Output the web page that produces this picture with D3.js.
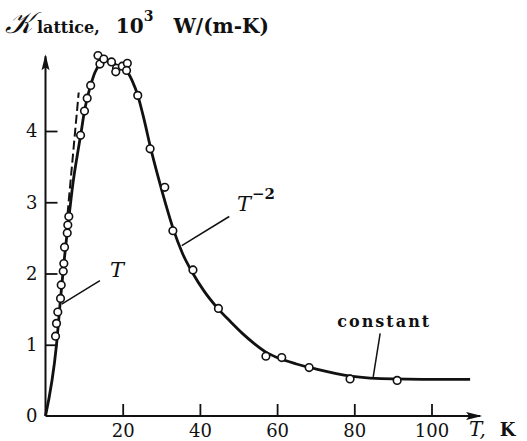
<!DOCTYPE html>
<html>
<head>
<meta charset="utf-8">
<script src="https://cdn.jsdelivr.net/npm/d3@7"></script>
<style>
  html, body { margin: 0; padding: 0; background: #fff; }
  svg { display: block; }
  text { font-family: "DejaVu Serif", "Liberation Serif", serif; fill: #111; }
</style>
</head>
<body>
<svg id="chart" width="527" height="441"></svg>
<script>
// Measured lattice thermal conductivity (10^3 W/(m·K)) versus temperature (K)
const tempK = [2.6, 2.85, 3.19, 3.89, 4.07, 4.59, 4.75, 4.93, 5.63, 5.78, 6.04,
  9.08, 10.1, 10.8, 11.7, 13.6, 14.1, 15.1, 17.1, 18.4, 18.2, 19.9, 21.2, 21.0,
  23.9, 27.1, 30.9, 33.0, 38.2, 44.8, 57.1, 61.2, 68.3, 78.9, 91.1];
const kappa = [1.12, 1.30, 1.46, 1.65, 1.84, 2.03, 2.14, 2.37, 2.57, 2.68, 2.80,
  3.94, 4.28, 4.46, 4.64, 5.06, 4.94, 5.01, 4.97, 4.88, 4.83, 4.91, 4.95, 4.85,
  4.50, 3.75, 3.21, 2.60, 2.05, 1.51, 0.84, 0.82, 0.68, 0.52, 0.50];

// Smooth trend curve through the measurements
const curveT = [0, 2.85, 3.9, 4.75, 5.7, 6.3, 7.2, 8.2, 9.1, 10.1, 10.8, 11.7, 12.8,
  14.2, 15.5, 17.0, 18.5, 20.0, 21.2, 22.5, 23.9, 25.5, 27.2, 29.3, 31.1, 33.0,
  35.5, 38.2, 41.0, 44.8, 48, 51, 54, 57, 60, 65, 70, 79, 90, 100, 110];
const curveK = [0, 1.0, 1.65, 2.14, 2.62, 2.9, 3.3, 3.65, 3.94, 4.28, 4.46, 4.64, 4.82,
  4.95, 5.0, 4.98, 4.92, 4.88, 4.83, 4.7, 4.5, 4.17, 3.77, 3.33, 2.98, 2.64,
  2.28, 2.0, 1.76, 1.5, 1.32, 1.16, 1.02, 0.9, 0.82, 0.73, 0.66, 0.56, 0.52, 0.515, 0.515];

// Linear (∝ T) asymptote at low temperature
const dashT = [5.7, 8.6];
const dashK = [2.83, 4.54];

const xTicks = [20, 40, 60, 80, 100];
const yTicks = [0, 1, 2, 3, 4];

const svg = d3.select("#chart");
const x = d3.scaleLinear().domain([0, 100]).range([45.5, 431.5]);
const y = d3.scaleLinear().domain([0, 4]).range([416, 131]);
const xEnd = 112.6, yEnd = 5.05;

// Axes: inward ticks, labels outside, plain arrowed spines drawn separately
const gx = svg.append("g").attr("transform", `translate(0,${y(0)})`)
  .call(d3.axisBottom(x).tickValues(xTicks).tickFormat(d3.format("d"))
    .tickSizeInner(-12).tickSizeOuter(0).tickPadding(8));
const gy = svg.append("g").attr("transform", `translate(${x(0)},0)`)
  .call(d3.axisLeft(y).tickValues(yTicks).tickFormat(d3.format("d"))
    .tickSizeInner(-12).tickSizeOuter(0).tickPadding(8));
[gx, gy].forEach(g => {
  g.select(".domain").remove();
  g.selectAll(".tick line").attr("stroke", "#111").attr("stroke-width", 1.8);
  g.selectAll(".tick text").attr("font-size", 18).attr("fill", "#111")
    .style("font-family", '"DejaVu Serif", serif');
});
gy.selectAll(".tick").filter(d => d === 0).select("line").remove();

svg.append("line").attr("x1", x(0)).attr("y1", y(0)).attr("x2", x(xEnd)).attr("y2", y(0))
  .attr("stroke", "#111").attr("stroke-width", 2);
svg.append("line").attr("x1", x(0)).attr("y1", y(0)).attr("x2", x(0)).attr("y2", y(yEnd))
  .attr("stroke", "#111").attr("stroke-width", 2);
// arrow heads
const ax = x(xEnd), ay = y(0);
svg.append("path").attr("d", `M${ax + 2},${ay} L${ax - 14},${ay - 4} L${ax - 11},${ay} L${ax - 14},${ay + 4} Z`).attr("fill", "#111");
const bx = x(0), by = y(yEnd);
svg.append("path").attr("d", `M${bx},${by - 2} L${bx - 4},${by + 14} L${bx},${by + 11} L${bx + 4},${by + 14} Z`).attr("fill", "#111");

// Trend curve
const pts = curveT.map((t, i) => [t, curveK[i]]);
svg.append("path")
  .attr("d", d3.line().x(d => x(d[0])).y(d => y(d[1])).curve(d3.curveMonotoneX)(pts))
  .attr("fill", "none").attr("stroke", "#111").attr("stroke-width", 2.8)
  .attr("stroke-linejoin", "round");

// Dashed low-T asymptote
svg.append("path")
  .attr("d", d3.line().x(d => x(d[0])).y(d => y(d[1]))(dashT.map((t, i) => [t, dashK[i]])))
  .attr("fill", "none").attr("stroke", "#111").attr("stroke-width", 2)
  .attr("stroke-dasharray", "9,4");

// Measurement circles
svg.append("g").selectAll("circle")
  .data(tempK.map((t, i) => [t, kappa[i]]))
  .join("circle")
  .attr("cx", d => x(d[0])).attr("cy", d => y(d[1])).attr("r", 3.8)
  .attr("fill", "#fff").attr("stroke", "#111").attr("stroke-width", 1.6);

// Leader lines for the regime labels
const leaders = [
  [[14.1, 1.90], [4.2, 1.57]],
  [[47.6, 2.80], [35.3, 2.39]],
  [[86.7, 1.16], [84.9, 0.55]]
];
svg.append("g").selectAll("line").data(leaders).join("line")
  .attr("x1", d => x(d[0][0])).attr("y1", d => y(d[0][1]))
  .attr("x2", d => x(d[1][0])).attr("y2", d => y(d[1][1]))
  .attr("stroke", "#111").attr("stroke-width", 1.5);

svg.append("text").attr("x", x(16.7)).attr("y", y(1.95))
  .attr("font-size", 21).attr("font-style", "italic").text("T");
const tm2 = svg.append("text").attr("x", x(49.6)).attr("y", y(2.88))
  .attr("font-size", 21).attr("font-style", "italic");
tm2.append("tspan").text("T");
tm2.append("tspan").attr("dy", -12).attr("dx", 1).attr("font-size", 15)
  .attr("font-style", "normal").attr("font-weight", "bold").text("−2");
svg.append("text").attr("x", x(75.6)).attr("y", y(1.25))
  .attr("font-size", 16).attr("font-weight", "bold").attr("letter-spacing", 2)
  .text("constant");

// Axis titles
const ttl = svg.append("text").attr("x", 5).attr("y", 33);
ttl.append("tspan").attr("font-size", 30).attr("font-style", "italic").text("𝒦");
ttl.append("tspan").attr("dx", 4).attr("font-size", 16).attr("font-weight", "bold").text("lattice,");
ttl.append("tspan").attr("dx", 16).attr("font-size", 20).attr("font-weight", "bold").text("10");
ttl.append("tspan").attr("dy", -12).attr("font-size", 14).attr("font-weight", "bold").text("3");
ttl.append("tspan").attr("dy", 12).attr("dx", 20).attr("font-size", 20).attr("font-weight", "bold").text("W/(m-K)");

const xl = svg.append("text").attr("x", 469).attr("y", 436);
xl.append("tspan").attr("font-size", 20).attr("font-style", "italic").text("T,");
xl.append("tspan").attr("dx", 14).attr("font-size", 18).attr("font-weight", "bold").text("K");
</script>
</body>
</html>
